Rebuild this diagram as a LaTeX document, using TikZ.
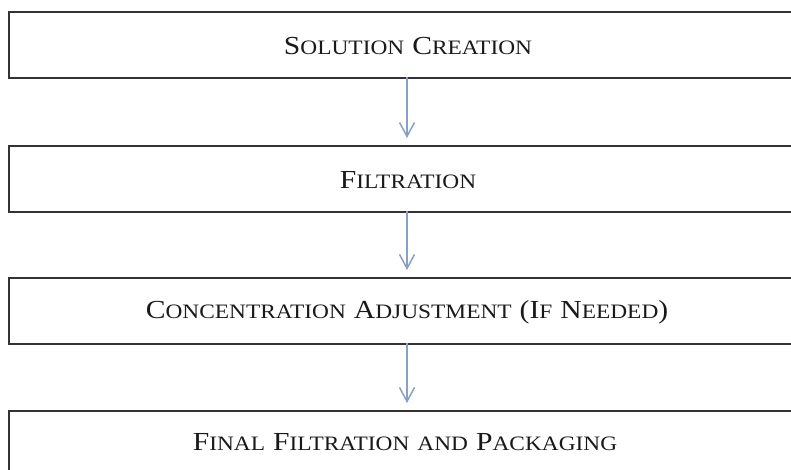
\documentclass[tikz,border=0pt]{standalone}
\usepackage{fontspec}
\setmainfont{Liberation Serif}
\usetikzlibrary{arrows.meta}
\newcommand\bigc[1]{{\fontsize{26}{28}\selectfont #1}}
\newcommand\smc[1]{{\fontsize{20.5}{24}\selectfont #1}}
\newcommand\gap{\hspace{7pt}}
\begin{document}
\begin{tikzpicture}[x=1pt,y=-1pt,
  stepbox/.style={draw=black!80,line width=1.6pt,minimum width=798pt,minimum height=66pt,anchor=north west,inner sep=0pt},
  label/.style={xscale=1.14,text=black!90},
  flow/.style={draw={rgb,255:red,135;green,160;blue,198},line width=1.5pt,-{Straight Barb[length=14pt,width=15pt,line width=1.5pt]},shorten >=7pt}]
\useasboundingbox (0,0) rectangle (791,469);
\clip (0,0) rectangle (791,469);
\node[stepbox] (b1) at (8,11) {};
\node[stepbox] (b2) at (8,145) {};
\node[stepbox] (b3) at (8,277) {};
\node[stepbox] (b4) at (8,410) {};
\node[label] (t1) at (408,46) {\bigc{S}\smc{OLUTION}\gap\bigc{C}\smc{REATION}};
\node[label] (t2) at (408,180) {\bigc{F}\smc{ILTRATION}};
\node[label] (t3) at (407,312) {\bigc{C}\smc{ONCENTRATION}\gap\bigc{A}\smc{DJUSTMENT}\gap\bigc{(I}\smc{F}\gap\bigc{N}\smc{EEDED}\bigc{)}};
\node[label] (t4) at (405,442) {\bigc{F}\smc{INAL}\gap\bigc{F}\smc{ILTRATION}\gap\smc{AND}\gap\bigc{P}\smc{ACKAGING}};
\coordinate (a1s) at (407,77);
\coordinate (a1e) at (407,145);
\coordinate (a2s) at (407,211);
\coordinate (a2e) at (407,277);
\coordinate (a3s) at (407,343);
\coordinate (a3e) at (407,410);
\draw[flow] (a1s) -- (a1e);
\draw[flow] (a2s) -- (a2e);
\draw[flow] (a3s) -- (a3e);
\end{tikzpicture}
\end{document}
